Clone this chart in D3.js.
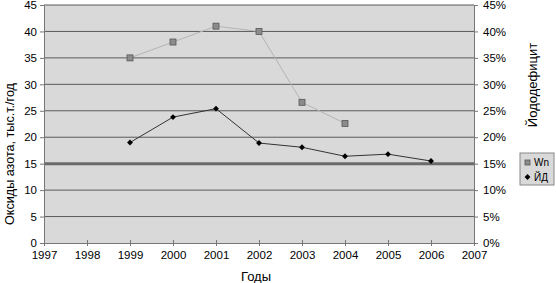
<!DOCTYPE html>
<html>
<head>
<meta charset="utf-8">
<script src="https://cdn.jsdelivr.net/npm/d3@7"></script>
<style>
  body { margin: 0; background: #fff; }
  svg { font-family: "Liberation Sans", Arial, sans-serif; }
</style>
</head>
<body>
<div id="viz"></div>
<script>
// ===== Data =====
const years = [1999, 2000, 2001, 2002, 2003, 2004, 2005, 2006];
const wnValues = [35, 38, 41, 40, 26.6, 22.6];           // тыс.т./год, 1999-2004
const ydValues = [19.0, 23.8, 25.4, 18.9, 18.1, 16.4, 16.8, 15.5]; // %, 1999-2006
const leftTicks = [0, 5, 10, 15, 20, 25, 30, 35, 40, 45];
const rightTicks = [0, 5, 10, 15, 20, 25, 30, 35, 40, 45];
const xTicks = [1997, 1998, 1999, 2000, 2001, 2002, 2003, 2004, 2005, 2006, 2007];
const seriesNames = ['Wn', 'ЙД'];

const width = 556;
const height = 283;
const margin = { top: 5, right: 82, bottom: 40, left: 44 };
const boundedWidth = width - margin.left - margin.right;
const boundedHeight = height - margin.top - margin.bottom;

const svg = d3.select('#viz')
  .append('svg')
  .attr('width', width)
  .attr('height', height);

const viz = svg.append('g')
  .attr('transform', `translate(${margin.left}, ${margin.top})`);

// ===== Scales =====
const xScale = d3.scaleLinear().domain([1997, 2007]).range([0, boundedWidth]);
const yScale = d3.scaleLinear().domain([0, 45]).range([boundedHeight, 0]);
const yRight = d3.scaleLinear().domain([0, 0.45]).range([boundedHeight, 0]);

// plot background
viz.append('rect')
  .attr('width', boundedWidth)
  .attr('height', boundedHeight)
  .attr('fill', '#d9d9d9');

// gridlines
viz.append('g')
  .selectAll('line')
  .data(leftTicks.filter(d => d > 0))
  .join('line')
  .attr('x1', 0)
  .attr('x2', boundedWidth)
  .attr('y1', d => yScale(d))
  .attr('y2', d => yScale(d))
  .attr('stroke', d => d === 15 ? '#6a6a6a' : '#5a5a5a')
  .attr('stroke-width', d => d === 15 ? 3 : 1);

// ===== Axes =====
const axisColor = '#777';
const yAxis = d3.axisLeft(yScale).tickValues(leftTicks).tickSize(4).tickSizeOuter(0);
const gy = viz.append('g').call(yAxis);

const yAxisR = d3.axisRight(yRight).tickValues(rightTicks.map(d => d / 100))
  .tickFormat(d3.format('.0%')).tickSize(4).tickSizeOuter(0);
const gyr = viz.append('g').attr('transform', `translate(${boundedWidth},0)`).call(yAxisR);

const xAxis = d3.axisBottom(xScale).tickValues(xTicks).tickFormat(d3.format('d'))
  .tickSize(4).tickSizeOuter(0);
const gx = viz.append('g').attr('transform', `translate(0,${boundedHeight})`).call(xAxis);
gx.selectAll('.tick line').attr('y1', -3).attr('y2', 3);

[gy, gyr, gx].forEach(g => {
  g.select('.domain').attr('stroke', axisColor);
  g.selectAll('.tick line').attr('stroke', axisColor);
  g.selectAll('.tick text').attr('fill', '#000').style('font-size', '11.5px')
    .style('font-family', '"Liberation Sans", Arial, sans-serif');
});
gy.selectAll('.tick text').attr('x', -7);
gyr.selectAll('.tick text').attr('x', 9);
gx.selectAll('.tick text').attr('y', 8);

// ===== Lines =====
const wnData = wnValues.map((v, i) => ({ x: years[i], y: v }));
const ydData = ydValues.map((v, i) => ({ x: years[i], y: v / 100 }));

viz.append('path')
  .datum(wnData)
  .attr('fill', 'none')
  .attr('stroke', '#b4b4b4')
  .attr('stroke-width', 1)
  .attr('d', d3.line().x(d => xScale(d.x)).y(d => yScale(d.y)));

viz.append('path')
  .datum(ydData)
  .attr('fill', 'none')
  .attr('stroke', '#333')
  .attr('stroke-width', 1)
  .attr('d', d3.line().x(d => xScale(d.x)).y(d => yRight(d.y)));

viz.selectAll('.wn')
  .data(wnData)
  .join('rect')
  .attr('class', 'wn')
  .attr('x', d => xScale(d.x) - 3)
  .attr('y', d => yScale(d.y) - 3)
  .attr('width', 6)
  .attr('height', 6)
  .attr('fill', '#8c8c8c')
  .attr('stroke', '#555')
  .attr('stroke-width', 0.8);

const diamond = d3.symbol().type(d3.symbolDiamond2).size(22);
viz.selectAll('.yd')
  .data(ydData)
  .join('path')
  .attr('class', 'yd')
  .attr('transform', d => `translate(${xScale(d.x)},${yRight(d.y)})`)
  .attr('d', diamond)
  .attr('fill', '#000');

// ===== Titles =====
svg.append('text')
  .attr('transform', `translate(14, 154) rotate(-90)`)
  .attr('text-anchor', 'middle')
  .style('font-size', '12.6px')
  .text('Оксиды азота, тыс.т./год');

svg.append('text')
  .attr('transform', `translate(537, 85) rotate(-90)`)
  .attr('text-anchor', 'middle')
  .style('font-size', '13px')
  .text('Йододефицит');

svg.append('text')
  .attr('x', 256)
  .attr('y', 281)
  .attr('text-anchor', 'middle')
  .style('font-size', '13px')
  .text('Годы');

// ===== Legend =====
const legend = svg.append('g').attr('transform', 'translate(520, 153)');
legend.append('rect')
  .attr('width', 34)
  .attr('height', 32)
  .attr('fill', '#d9d9d9')
  .attr('stroke', '#888');

legend.append('rect')
  .attr('x', 5).attr('y', 7).attr('width', 5).attr('height', 5)
  .attr('fill', '#8c8c8c').attr('stroke', '#555').attr('stroke-width', 0.8);
legend.append('path')
  .attr('transform', 'translate(7.5, 24)')
  .attr('d', diamond)
  .attr('fill', '#000');

legend.selectAll('.lt')
  .data(seriesNames)
  .join('text')
  .attr('class', 'lt')
  .attr('x', 14)
  .attr('y', (d, i) => 13 + i * 15)
  .style('font-size', '10px')
  .text(d => d);
</script>
</body>
</html>
